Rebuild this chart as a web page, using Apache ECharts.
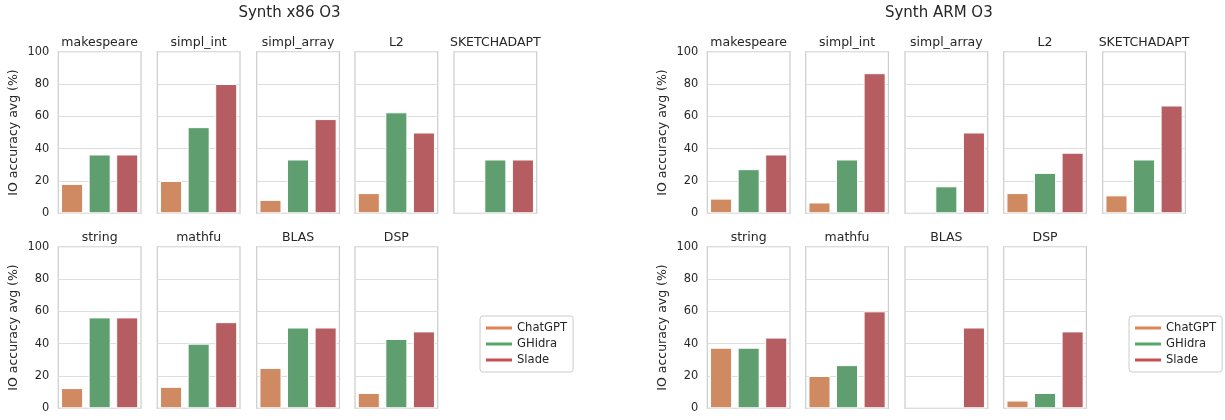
<!DOCTYPE html>
<html>
<head>
<meta charset="utf-8">
<script src="https://cdn.jsdelivr.net/npm/echarts@6/dist/echarts.min.js"></script>
<style>
html,body{margin:0;padding:0;background:#fff;}
#chart{width:1225px;height:420px;}
</style>
</head>
<body>
<div id="chart"></div>
<script>
const categories = ['makespeare','simpl_int','simpl_array','L2','SKETCHADAPT','string','mathfu','BLAS','DSP'];
const tools = ['ChatGPT','GHidra','Slade'];
const panelTitles = ['Synth x86 O3','Synth ARM O3'];
const yTicks = [0,20,40,60,80,100];

const x86ChatGPT = [18.2, 20.0, 8.3, 12.5, 0, 12.5, 13.3, 25.0, 9.5];
const x86GHidra  = [36.4, 53.3, 33.3, 62.5, 33.3, 56.25, 40.0, 50.0, 42.9];
const x86Slade   = [36.4, 80.0, 58.3, 50.0, 33.3, 56.25, 53.3, 50.0, 47.6];

const armChatGPT = [9.1, 6.7, 0, 12.5, 11.1, 37.5, 20.0, 0, 4.8];
const armGHidra  = [27.3, 33.3, 16.7, 25.0, 33.3, 37.5, 26.7, 0, 9.5];
const armSlade   = [36.4, 86.7, 50.0, 37.5, 66.7, 43.75, 60.0, 50.0, 47.6];

const panels = [[x86ChatGPT, x86GHidra, x86Slade],[armChatGPT, armGHidra, armSlade]];

const barColors = ['#cf8a62','#5f9e6e','#b55d60'];
const legendColors = ['#dd8452','#55a868','#c44e52'];
const textColor = '#262626';
const font = 'DejaVu Sans';

const colLefts = [[58.3,157.3,256.7,355,454],[707.3,805.7,905,1003.7,1102.7]];
const rowTops = [51.7,246.7];
const gw = 82.7, gh = 161.6;

const grid = [], xAxis = [], yAxis = [], series = [];
let g = 0;
for (let p = 0; p < 2; p++) {
  for (let i = 0; i < categories.length; i++) {
    const row = i < 5 ? 0 : 1;
    const col = i < 5 ? i : i - 5;
    grid.push({left: colLefts[p][col], top: rowTops[row], width: gw, height: gh,
      show: true, borderColor: '#cccccc', borderWidth: 1.2, containLabel: false});
    xAxis.push({type: 'category', gridIndex: g, data: tools, position: 'top',
      name: categories[i], nameLocation: 'middle', nameGap: 2,
      nameTextStyle: {fontSize: 12.5, color: textColor, fontFamily: font},
      axisLabel: {show: false}, axisTick: {show: false}, axisLine: {show: false}, splitLine: {show: false}});
    yAxis.push({type: 'value', gridIndex: g, min: 0, max: 100, interval: 20,
      name: col === 0 ? 'IO accuracy avg (%)' : '', nameLocation: 'middle', nameGap: 38,
      nameTextStyle: {fontSize: 12.5, color: textColor, fontFamily: font},
      axisLabel: {show: col === 0, fontSize: 11.4, color: textColor, fontFamily: font, margin: 9},
      axisTick: {show: false}, axisLine: {show: false},
      splitLine: {show: true, lineStyle: {color: '#dddddd', width: 1.1}}});
    for (let t = 0; t < tools.length; t++) {
      series.push({type: 'bar', name: tools[t], xAxisIndex: g, yAxisIndex: g,
        data: tools.map((_, k) => {
          if (k !== t) return null;
          const v = panels[p][t][i];
          return v > 0 ? v : {value: v, itemStyle: {borderWidth: 0, opacity: 0}};
        }),
        barWidth: '80%', barGap: '-100%',
        itemStyle: {color: barColors[t], borderColor: '#ffffff', borderWidth: 1}});
    }
    g++;
  }
}

const legendBase = {orient: 'vertical', top: 316, icon: 'rect', itemWidth: 26, itemHeight: 3, itemGap: 4,
  borderColor: '#cccccc', borderWidth: 1, borderRadius: 3, padding: [6, 6, 6, 6], backgroundColor: '#fff',
  textStyle: {fontSize: 11.6, color: textColor, fontFamily: font},
  selectedMode: false,
  data: tools.map((n, k) => ({name: n, itemStyle: {color: legendColors[k], borderWidth: 0, opacity: 1}}))};

const chart = echarts.init(document.getElementById('chart'));
chart.setOption({
  animation: false,
  textStyle: {fontFamily: font},
  grid, xAxis, yAxis, series,
  legend: [Object.assign({left: 480}, legendBase), Object.assign({left: 1129}, legendBase)],
  graphic: [
    {type: 'text', x: 289.5, y: 13, style: {text: panelTitles[0], fontSize: 15, fill: textColor, fontFamily: font, textAlign: 'center', textVerticalAlign: 'middle'}},
    {type: 'text', x: 938.8, y: 13, style: {text: panelTitles[1], fontSize: 15, fill: textColor, fontFamily: font, textAlign: 'center', textVerticalAlign: 'middle'}}
  ]
});
</script>
</body>
</html>
